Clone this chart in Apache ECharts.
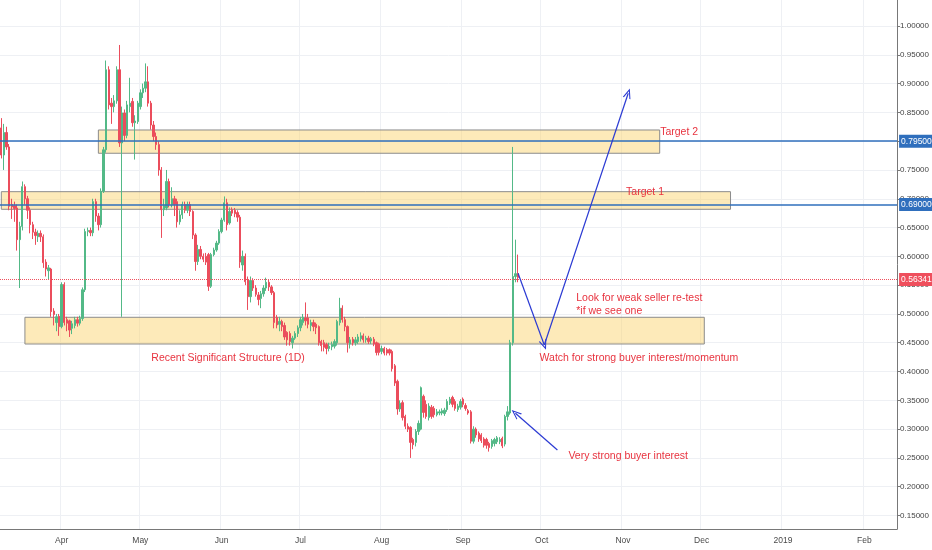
<!DOCTYPE html>
<html><head><meta charset="utf-8">
<script src="https://cdn.jsdelivr.net/npm/echarts@6/dist/echarts.min.js"></script>
<style>html,body{margin:0;padding:0;background:#fff}#c{width:932px;height:550px}</style>
</head><body><div id="c"></div>
<script>
// ---- categories / ticks ----
const startDate = [2018, 2, 9];   // 2018-03-09
const dayCount = 342;             // through 2019-02-13
const tickDates = ['2018-04-01','2018-05-01','2018-06-01','2018-07-01','2018-08-01','2018-09-01','2018-10-01','2018-11-01','2018-12-01','2019-01-01','2019-02-01'];
const tickLabels = ['Apr','May','Jun','Jul','Aug','Sep','Oct','Nov','Dec','2019','Feb'];
const yTicks = [0.15,0.2,0.25,0.3,0.35,0.4,0.45,0.5,0.55,0.6,0.65,0.7,0.75,0.8,0.85,0.9,0.95,1.0];

// ---- daily candles [open, close, low, high] ----
const march = [
[0.823,0.776,0.77,0.84],[0.776,0.815,0.75,0.83],[0.815,0.79,0.785,0.825],[0.79,0.687,0.68,0.795],
[0.69,0.686,0.665,0.70],[0.688,0.683,0.66,0.695],[0.684,0.629,0.61,0.69],[0.629,0.652,0.545,0.66],
[0.652,0.721,0.645,0.73],[0.721,0.70,0.69,0.725],[0.70,0.68,0.665,0.705],[0.68,0.655,0.64,0.685],
[0.655,0.642,0.63,0.66],[0.642,0.636,0.62,0.648],[0.634,0.64,0.625,0.645],[0.64,0.634,0.625,0.645],
[0.634,0.589,0.58,0.638],[0.59,0.578,0.565,0.595],[0.575,0.58,0.56,0.585],[0.578,0.504,0.495,0.58],
[0.505,0.499,0.48,0.51],[0.485,0.495,0.47,0.50],[0.496,0.478,0.462,0.50]];
const april = [
[0.478,0.551,0.475,0.555],[0.551,0.485,0.48,0.555],[0.49,0.484,0.47,0.495],[0.488,0.472,0.46,0.49],
[0.475,0.483,0.465,0.488],[0.48,0.49,0.475,0.495],[0.49,0.484,0.478,0.495],[0.484,0.492,0.48,0.497],
[0.492,0.542,0.488,0.546],[0.542,0.643,0.538,0.648],[0.643,0.645,0.635,0.65],[0.645,0.641,0.635,0.65],
[0.641,0.695,0.635,0.70],[0.695,0.67,0.66,0.70],[0.67,0.655,0.645,0.675],[0.655,0.713,0.65,0.718],
[0.713,0.785,0.71,0.79],[0.785,0.924,0.78,0.94],[0.924,0.863,0.855,0.93],[0.866,0.86,0.83,0.875],
[0.86,0.87,0.85,0.88],[0.87,0.924,0.865,0.93],[0.924,0.797,0.79,0.967],[0.797,0.849,0.495,0.86],
[0.849,0.81,0.80,0.855],[0.81,0.863,0.805,0.87],[0.86,0.866,0.85,0.91],[0.869,0.832,0.825,0.875],
[0.832,0.835,0.768,0.845],[0.834,0.866,0.83,0.87]];
const may = [
[0.86,0.884,0.855,0.89],[0.884,0.892,0.875,0.90],[0.892,0.903,0.885,0.935],[0.903,0.866,0.86,0.93],
[0.866,0.828,0.82,0.87],[0.828,0.808,0.80,0.835],[0.808,0.794,0.785,0.815],[0.794,0.75,0.74,0.80],
[0.75,0.681,0.632,0.755],[0.681,0.688,0.67,0.70],[0.684,0.73,0.68,0.75],[0.73,0.69,0.685,0.735],
[0.69,0.70,0.685,0.72],[0.70,0.69,0.67,0.705],[0.695,0.66,0.65,0.70],[0.66,0.672,0.655,0.68],
[0.672,0.69,0.665,0.695],[0.69,0.68,0.675,0.695],[0.68,0.69,0.675,0.695],[0.69,0.678,0.67,0.695],
[0.678,0.637,0.63,0.68],[0.637,0.591,0.575,0.64],[0.591,0.612,0.585,0.62],[0.612,0.60,0.595,0.618],
[0.60,0.595,0.59,0.605],[0.60,0.59,0.585,0.606],[0.603,0.548,0.54,0.606],[0.548,0.603,0.545,0.606],
[0.603,0.611,0.60,0.615],[0.611,0.623,0.608,0.627],[0.623,0.643,0.62,0.647]];
const june = [
[0.643,0.663,0.64,0.667],[0.663,0.693,0.66,0.704],[0.693,0.655,0.645,0.70],[0.658,0.678,0.655,0.685],
[0.681,0.675,0.67,0.685],[0.68,0.674,0.668,0.684],[0.676,0.668,0.66,0.68],[0.668,0.59,0.58,0.672],
[0.585,0.60,0.575,0.61],[0.60,0.556,0.55,0.605],[0.559,0.53,0.507,0.565],[0.53,0.558,0.52,0.565],
[0.558,0.545,0.54,0.562],[0.545,0.534,0.53,0.55],[0.533,0.525,0.515,0.538],[0.527,0.535,0.51,0.54],
[0.535,0.545,0.53,0.55],[0.545,0.555,0.54,0.563],[0.555,0.547,0.54,0.56],[0.547,0.537,0.533,0.55],
[0.537,0.485,0.475,0.54],[0.494,0.481,0.475,0.498],[0.482,0.487,0.47,0.495],[0.487,0.478,0.47,0.49],
[0.48,0.46,0.455,0.485],[0.468,0.455,0.445,0.47],[0.466,0.452,0.445,0.47],[0.45,0.458,0.44,0.462],
[0.458,0.466,0.455,0.47],[0.466,0.476,0.46,0.48]];
const july = [
[0.476,0.49,0.47,0.495],[0.485,0.494,0.48,0.50],[0.493,0.488,0.48,0.52],[0.493,0.482,0.475,0.50],
[0.48,0.485,0.47,0.49],[0.485,0.478,0.47,0.49],[0.482,0.476,0.465,0.485],[0.478,0.45,0.445,0.48],
[0.452,0.445,0.435,0.455],[0.45,0.442,0.435,0.455],[0.447,0.44,0.43,0.45],[0.44,0.444,0.435,0.45],
[0.443,0.447,0.437,0.452],[0.444,0.452,0.44,0.456],[0.45,0.487,0.445,0.49],[0.485,0.51,0.48,0.528],
[0.51,0.49,0.485,0.515],[0.49,0.478,0.47,0.495],[0.478,0.45,0.433,0.48],[0.448,0.455,0.44,0.46],
[0.456,0.45,0.445,0.46],[0.45,0.455,0.445,0.46],[0.452,0.46,0.448,0.465],[0.457,0.462,0.452,0.468],
[0.462,0.455,0.45,0.466],[0.455,0.458,0.45,0.462],[0.458,0.452,0.448,0.462],[0.453,0.457,0.448,0.46],
[0.456,0.448,0.444,0.46],[0.45,0.433,0.428,0.452],[0.448,0.433,0.428,0.45]];
const august = [
[0.435,0.44,0.43,0.445],[0.44,0.432,0.428,0.443],[0.438,0.432,0.428,0.441],[0.438,0.432,0.428,0.44],
[0.435,0.405,0.40,0.438],[0.41,0.38,0.375,0.413],[0.383,0.335,0.325,0.386],[0.335,0.345,0.33,0.35],
[0.346,0.32,0.315,0.35],[0.322,0.305,0.30,0.325],[0.305,0.30,0.295,0.31],[0.303,0.277,0.25,0.305],
[0.282,0.273,0.265,0.285],[0.277,0.296,0.27,0.30],[0.296,0.31,0.29,0.315],[0.30,0.372,0.298,0.374],
[0.357,0.329,0.32,0.36],[0.343,0.322,0.318,0.35],[0.32,0.34,0.315,0.345],[0.338,0.322,0.318,0.342],
[0.336,0.325,0.32,0.34],[0.325,0.33,0.322,0.335],[0.328,0.33,0.324,0.334],[0.328,0.332,0.324,0.336],
[0.327,0.333,0.323,0.337],[0.334,0.348,0.33,0.352],[0.345,0.352,0.342,0.356],[0.355,0.343,0.338,0.358],
[0.348,0.336,0.332,0.352],[0.334,0.34,0.33,0.344],[0.338,0.348,0.334,0.352]];
const september = [
[0.352,0.343,0.338,0.355],[0.341,0.336,0.332,0.345],[0.332,0.328,0.325,0.335],[0.33,0.279,0.275,0.333],
[0.279,0.30,0.275,0.305],[0.30,0.29,0.285,0.303],[0.293,0.283,0.278,0.296],[0.29,0.28,0.276,0.293],
[0.283,0.272,0.268,0.286],[0.282,0.272,0.266,0.285],[0.275,0.268,0.261,0.278],[0.27,0.28,0.266,0.283],
[0.275,0.282,0.27,0.285],[0.278,0.285,0.274,0.288],[0.278,0.282,0.274,0.286],[0.284,0.271,0.267,0.287],
[0.274,0.322,0.27,0.325],[0.322,0.33,0.315,0.34],[0.328,0.45,0.325,0.455],[0.45,0.565,0.445,0.79],
[0.565,0.57,0.555,0.629],[0.57,0.56341,0.555,0.603]];

// ---- drawn levels / zones / arrows / notes ----
const levelValues = [0.795, 0.69];
const lastPrice = 0.56341;
const zones = [
  {from:'2018-04-15', to:'2018-11-15', top:0.8194, bottom:0.7790},
  {from:'2018-03-09', to:'2018-12-12', top:0.7123, bottom:0.6817},
  {from:'2018-03-18', to:'2018-12-02', top:0.4942, bottom:0.4478}
];
const arrows = [
  {from:['2018-09-22',0.5706], to:['2018-10-02',0.4460]},
  {from:['2018-10-02',0.4460], to:['2018-11-03',0.8831]},
  {from:['2018-10-07',0.2638], to:['2018-09-21',0.3275]}
];
const noteTexts = ['Target 2','Target 1','Recent Significant Structure (1D)','Look for weak seller re-test\n*if we see one','Watch for strong buyer interest/momentum','Very strong buyer interest'];
const noteDates = ['2018-11-15','2018-11-02','2018-05-05','2018-10-14','2018-09-30','2018-10-11'];
const noteValues = [0.8159, 0.7109, 0.4235, 0.5155, 0.423, 0.2533];

// ---- build ----
const candles = [].concat(march, april, may, june, july, august, september);
const categories = [];
const t0 = Date.UTC(startDate[0], startDate[1], startDate[2]);
for (let k = 0; k < dayCount; k++) categories.push(new Date(t0 + k * 86400000).toISOString().slice(0, 10));
const labelOf = {};
tickDates.forEach((d, i) => labelOf[d] = tickLabels[i]);
const isTick = (idx, val) => labelOf[val] !== undefined;

const GREEN = '#53b987', RED = '#eb4d5c', BLUE = '#2f6fbd', PRICE_RED = '#ef4f5d', NOTE = '#e8333f', ARROW = '#2b3ad3';
const arrowPath = 'path://M0,10 L5,0 L10,10 L8.6,10 L5,2.8 L1.4,10 Z';

const tagLabel = (txt, bg) => ({show: true, position: 'end', distance: 2, formatter: txt, color: '#fff', backgroundColor: bg, padding: [2,2,2,2], fontSize: 8.5, fontFamily: 'Liberation Sans'});
const mlData = [];
levelValues.forEach(v => mlData.push({
  yAxis: v,
  lineStyle: {color: BLUE, width: 1.5, type: 'solid'},
  label: tagLabel(v.toFixed(5), BLUE)
}));
mlData.push({
  yAxis: lastPrice,
  lineStyle: {color: PRICE_RED, width: 1, type: 'dotted'},
  label: tagLabel(lastPrice.toFixed(5), PRICE_RED)
});
arrows.forEach(a => mlData.push([
  {coord: a.from, symbol: 'none', lineStyle: {color: ARROW, width: 1.2, type: 'solid'}, label: {show: false}},
  {coord: a.to, symbol: arrowPath, symbolSize: [8, 10]}
]));

const chart = echarts.init(document.getElementById('c'), null, {renderer: 'canvas'});
chart.setOption({
  animation: false,
  backgroundColor: '#ffffff',
  grid: {left: 0, right: 33, top: 0, bottom: 21, containLabel: false},
  xAxis: {
    type: 'category', data: categories, boundaryGap: true,
    axisLine: {lineStyle: {color: '#787878'}},
    axisTick: {alignWithLabel: true, interval: isTick, length: 3, lineStyle: {color: '#787878'}},
    axisLabel: {interval: isTick, formatter: v => labelOf[v] || '', color: '#4a4a4a', fontSize: 8.5, margin: 7, fontFamily: 'Liberation Sans'},
    splitLine: {show: true, interval: isTick, lineStyle: {color: '#eef0f4'}}
  },
  yAxis: {
    type: 'value', position: 'right', min: 0.1266, max: 1.0451, scale: true,
    axisLine: {show: true, lineStyle: {color: '#787878'}},
    axisTick: {show: true, length: 3, customValues: yTicks, lineStyle: {color: '#787878'}},
    axisLabel: {customValues: yTicks, formatter: v => v.toFixed(5), color: '#444', fontSize: 8, margin: 3, fontFamily: 'Liberation Sans'},
    splitLine: {show: true, lineStyle: {color: '#eef0f4'}}
  },
  series: [{
    type: 'candlestick',
    data: candles,
    barWidth: '70%',
    itemStyle: {color: GREEN, color0: RED, borderColor: GREEN, borderColor0: RED, borderWidth: 1},
    markArea: {
      silent: true,
      itemStyle: {color: 'rgba(250,208,100,0.45)', borderColor: '#8c8c8c', borderWidth: 1},
      data: zones.map(z => [{coord: [z.from, z.top]}, {coord: [z.to, z.bottom]}])
    },
    markLine: {silent: true, symbol: 'none', data: mlData},
    markPoint: {
      silent: true, symbol: 'circle', symbolSize: 1,
      itemStyle: {color: 'rgba(0,0,0,0)'},
      label: {show: true, position: 'right', distance: 0, formatter: '{b}', color: NOTE, fontSize: 10.5, lineHeight: 13, fontFamily: 'Liberation Sans', align: 'left'},
      data: noteTexts.map((t, i) => ({name: t, coord: [noteDates[i], noteValues[i]], value: noteValues[i]}))
    }
  }]
});
</script>
</body></html>
